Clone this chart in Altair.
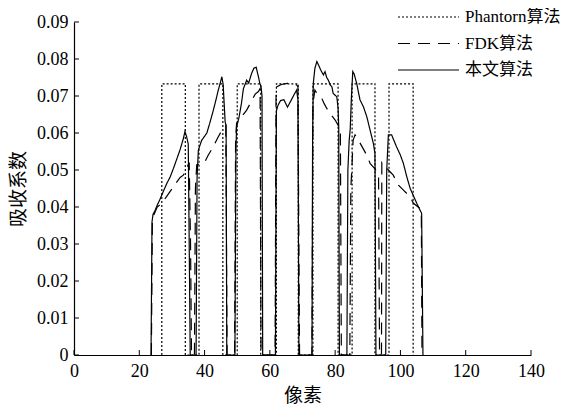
import altair as alt
import pandas as pd

# ---------------- data ----------------
series_names = ["Phantorn算法", "FDK算法", "本文算法"]

phantom_x = [26.9, 26.9, 34.1, 34.1, 38.3, 38.3, 45.6, 45.6, 50.0, 50.0, 57.2, 57.2,
             62.0, 62.0, 68.7, 68.7, 73.2, 73.2, 80.9, 80.9, 85.2, 85.2, 92.2, 92.2,
             96.5, 96.5, 103.9, 103.9]
phantom_y = [0, 0.0733, 0.0733, 0, 0, 0.0733, 0.0733, 0, 0, 0.0733, 0.0733, 0,
             0, 0.0733, 0.0733, 0, 0, 0.0733, 0.0733, 0, 0, 0.0733, 0.0733, 0,
             0, 0.0733, 0.0733, 0]

fdk_x = [23.7, 24.0, 24.5, 25.5, 26.9, 28.5, 30.9, 32.5, 33.5, 34.5, 35.3, 35.7, 36.0,
         36.9, 37.2, 37.6, 39.1, 40.0, 41.1, 42.5, 44.2, 45.5, 46.5, 46.9,
         49.2, 49.5, 49.8, 51.0, 52.9, 54.0, 55.5, 56.5, 57.0, 57.3,
         61.6, 61.9, 62.2, 63.5, 65.3, 67.0, 68.2, 68.6, 69.1,
         72.9, 73.2, 73.8, 74.4, 75.9, 76.6, 77.4, 78.7, 80.0, 81.0, 81.6, 81.9,
         84.5, 84.8, 85.1, 85.5, 86.1, 87.5, 89.7, 90.7, 92.0, 93.3, 93.6,
         94.2, 94.3, 95.3, 96.3, 97.8, 99.4, 101.0, 102.9, 104.0, 106.0, 106.4, 106.6]
fdk_y = [0, 0.036, 0.038, 0.040, 0.041, 0.043, 0.046, 0.048, 0.0486, 0.0505, 0.052, 0.03, 0,
         0, 0.045, 0.0514, 0.0518, 0.052, 0.054, 0.056, 0.059, 0.061, 0.062, 0,
         0, 0.058, 0.0626, 0.064, 0.0662, 0.068, 0.0705, 0.0712, 0.072, 0,
         0, 0.071, 0.0725, 0.0731, 0.0734, 0.0733, 0.073, 0.0725, 0,
         0, 0.068, 0.0716, 0.0707, 0.0694, 0.068, 0.0667, 0.065, 0.0635, 0.062, 0.061, 0,
         0, 0.045, 0.050, 0.058, 0.0595, 0.0575, 0.054, 0.0518, 0.0505, 0.049, 0,
         0, 0.052, 0.051, 0.050, 0.0486, 0.0459, 0.0445, 0.0428, 0.041, 0.0396, 0.039, 0]

ours_x = [23.6, 23.9, 24.2, 24.8, 25.5, 26.3, 27.5, 28.5, 29.4, 30.5, 31.5, 32.5, 33.5, 34.0, 34.5, 35.0, 35.4, 35.6,
          37.4, 37.7, 38.1, 39.1, 40.7, 41.7, 42.7, 43.5, 44.2, 44.8, 45.3, 45.7, 46.0, 46.3, 46.6, 46.8,
          49.3, 49.6, 49.8, 50.5, 51.3, 51.9, 52.9, 53.5, 54.4, 55.1, 55.8, 56.5, 56.9, 57.3, 57.6, 57.8,
          61.7, 62.0, 62.5, 63.3, 64.3, 65.4, 66.5, 67.5, 68.2, 68.6, 68.9,
          72.9, 73.1, 73.3, 73.8, 74.4, 74.9, 75.6, 76.4, 76.9, 77.4, 77.9, 78.5, 79.0, 79.4, 80.5, 80.9, 81.1, 81.3,
          83.6, 83.9, 84.3, 84.6, 85.0, 85.4, 85.8, 86.6, 87.6, 88.7, 89.7, 90.7, 91.7, 92.2, 92.5,
          95.5, 95.8, 96.3, 97.3, 98.0, 98.8, 100.0, 100.9, 102.0, 103.0, 104.0, 105.0, 105.8, 106.5, 106.9]
ours_y = [0, 0.036, 0.038, 0.039, 0.0405, 0.042, 0.0445, 0.0465, 0.048, 0.0505, 0.053, 0.0555, 0.0585, 0.0604, 0.059, 0.057, 0.02, 0,
          0, 0.048, 0.0554, 0.058, 0.060, 0.063, 0.0662, 0.069, 0.0716, 0.0735, 0.0752, 0.073, 0.068, 0.063, 0.062, 0,
          0, 0.055, 0.0617, 0.064, 0.068, 0.072, 0.0743, 0.0735, 0.0761, 0.0775, 0.0778, 0.0752, 0.0735, 0.0725, 0.070, 0,
          0, 0.066, 0.0675, 0.0688, 0.069, 0.067, 0.0688, 0.0705, 0.0716, 0.069, 0,
          0, 0.06, 0.0734, 0.0775, 0.0793, 0.0784, 0.077, 0.0757, 0.0766, 0.075, 0.0743, 0.073, 0.0725, 0.0707, 0.0698, 0.0667, 0.0617, 0,
          0, 0.05, 0.058, 0.0608, 0.070, 0.0766, 0.076, 0.0734, 0.069, 0.067, 0.0644, 0.0608, 0.0572, 0.0545, 0,
          0, 0.05, 0.0595, 0.0595, 0.058, 0.0563, 0.054, 0.0518, 0.048, 0.045, 0.043, 0.041, 0.0395, 0.0383, 0]

x_ticks = [0, 20, 40, 60, 80, 100, 120, 140]
y_ticks = [0, 0.01, 0.02, 0.03, 0.04, 0.05, 0.06, 0.07, 0.08, 0.09]

# ---------------- build table ----------------
rows = []
for name, xs, ys in zip(series_names, [phantom_x, fdk_x, ours_x], [phantom_y, fdk_y, ours_y]):
    for i, (xv, yv) in enumerate(zip(xs, ys)):
        rows.append({"series": name, "x": xv, "y": yv, "order": i})
df = pd.DataFrame(rows)

FONT = "Liberation Serif, Times New Roman, Noto Sans CJK SC, serif"
W, H = 457, 333

xscale = alt.Scale(domain=[0, 140], nice=False, zero=False)
yscale = alt.Scale(domain=[0, 0.09], nice=False)

xaxis = alt.Axis(values=x_ticks, title="像素", tickSize=0, labelPadding=7,
                 titlePadding=6, grid=False, labelOverlap=False, labelFlush=False)
yaxis = alt.Axis(values=y_ticks, title="吸收系数", tickSize=0, labelPadding=6,
                 titlePadding=8, grid=False, labelOverlap=False, labelFlush=False,
                 labelExpr="datum.value == 0 ? '0' : format(datum.value, '.2f')")

lines = alt.Chart(df).mark_line(strokeWidth=1.2, color="black").encode(
    x=alt.X("x:Q", scale=xscale, axis=xaxis, title="像素"),
    y=alt.Y("y:Q", scale=yscale, axis=yaxis, title="吸收系数"),
    strokeDash=alt.StrokeDash(
        "series:N",
        scale=alt.Scale(domain=series_names, range=[[2, 2], [12, 8], [1, 0]]),
        legend=alt.Legend(
            title=None, orient="none", legendX=323, legendY=-15,
            symbolType="stroke", symbolSize=3721, symbolStrokeWidth=1.2,
            symbolStrokeColor="black", clipHeight=20, rowPadding=6.5,
            labelFont=FONT, labelFontSize=17, labelColor="black", labelOffset=5,
            padding=0,
        ),
    ),
    order="order:Q",
)

xt = pd.DataFrame({"t": x_ticks})
yt = pd.DataFrame({"t": y_ticks})

xtick_marks = alt.Chart(xt).mark_rule(color="black", strokeWidth=1).encode(
    x=alt.X("t:Q", scale=xscale, axis=xaxis, title="像素"), y=alt.value(H), y2=alt.value(H - 5)
)
ytick_marks = alt.Chart(yt).mark_rule(color="black", strokeWidth=1).encode(
    y=alt.Y("t:Q", scale=yscale, axis=yaxis, title="吸收系数"), x=alt.value(0), x2=alt.value(5)
)

chart = alt.layer(lines, xtick_marks, ytick_marks).properties(
    width=W, height=H,
    autosize=alt.AutoSizeParams(type="none"),
    padding={"left": 66, "top": 14, "right": 41, "bottom": 50},
).configure_view(stroke=None).configure_axis(
    domainColor="black", domainWidth=1.2,
    labelFont=FONT, labelFontSize=18, labelColor="black",
    titleFont=FONT, titleFontSize=19, titleColor="black", titleFontWeight="normal",
)

chart.save("out.html", embed_options={"renderer": "svg", "actions": False})
